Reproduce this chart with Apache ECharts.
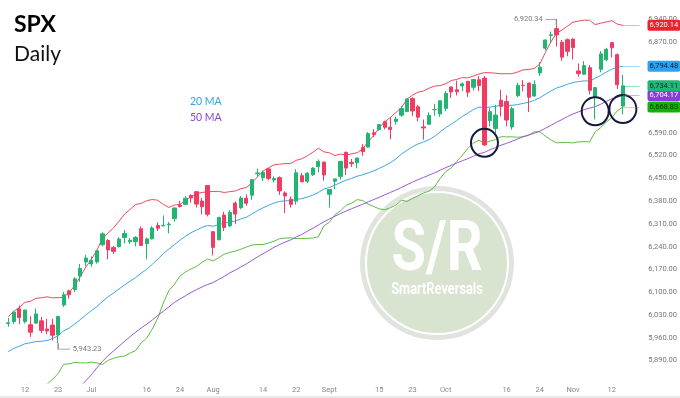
<!DOCTYPE html>
<html><head><meta charset="utf-8">
<script src="https://cdn.jsdelivr.net/npm/echarts@6/dist/echarts.min.js"></script>
<style>html,body{margin:0;padding:0;background:#fff}#c{width:680px;height:398px}</style>
</head><body><div id="c"></div>
<script>
const dates = ['2025-06-09','2025-06-10','2025-06-11','2025-06-12','2025-06-13','2025-06-16','2025-06-17','2025-06-18','2025-06-20','2025-06-23','2025-06-24','2025-06-25','2025-06-26','2025-06-27','2025-06-30',
'2025-07-01','2025-07-02','2025-07-03','2025-07-07','2025-07-08','2025-07-09','2025-07-10','2025-07-11','2025-07-14','2025-07-15','2025-07-16','2025-07-17','2025-07-18','2025-07-21','2025-07-22','2025-07-23','2025-07-24','2025-07-25','2025-07-28','2025-07-29','2025-07-30','2025-07-31',
'2025-08-01','2025-08-04','2025-08-05','2025-08-06','2025-08-07','2025-08-08','2025-08-11','2025-08-12','2025-08-13','2025-08-14','2025-08-15','2025-08-18','2025-08-19','2025-08-20','2025-08-21','2025-08-22','2025-08-25','2025-08-26','2025-08-27','2025-08-28','2025-08-29',
'2025-09-02','2025-09-03','2025-09-04','2025-09-05','2025-09-08','2025-09-09','2025-09-10','2025-09-11','2025-09-12','2025-09-15','2025-09-16','2025-09-17','2025-09-18','2025-09-19','2025-09-22','2025-09-23','2025-09-24','2025-09-25','2025-09-26','2025-09-29','2025-09-30',
'2025-10-01','2025-10-02','2025-10-03','2025-10-06','2025-10-07','2025-10-08','2025-10-09','2025-10-10','2025-10-13','2025-10-14','2025-10-15','2025-10-16','2025-10-17','2025-10-20','2025-10-21','2025-10-22','2025-10-23','2025-10-24','2025-10-27','2025-10-28','2025-10-29','2025-10-30','2025-10-31',
'2025-11-03','2025-11-04','2025-11-05','2025-11-06','2025-11-07','2025-11-10','2025-11-11','2025-11-12','2025-11-13','2025-11-14'];
const futureSlots = ['f1','f2','f3'];

const open = [6004,6010,6049,6010,6000,6005,6012,5987,5999,5969,
6061,6104,6108,6150,6193,6187,6193,6246,6259,6237,
6240,6268,6255,6255,6295,6249,6264,6305,6304,6307,
6326,6368,6370,6397,6409,6380,6428,6286,6261,6337,
6304,6374,6360,6389,6398,6464,6452,6479,6445,6452,
6405,6386,6380,6458,6441,6461,6486,6500,6401,6441,
6456,6530,6499,6498,6545,6546,6590,6600,6624,6607,
6625,6644,6655,6695,6670,6608,6616,6661,6648,6665,
6731,6722,6734,6748,6730,6753,6758,6627,6603,6690,
6686,6608,6704,6736,6743,6703,6774,6850,6889,6910,
6868,6876,6878,6780,6770,6790,6699,6785,6814,6867,
6830,6672];
const high = [6021,6043,6059,6045,6026,6050,6024,6018,6018,6028,
6101,6108,6146,6187,6215,6210,6227,6284,6263,6242,
6269,6291,6266,6272,6302,6268,6303,6315,6336,6316,
6360,6381,6395,6401,6409,6390,6428,6288,6330,6347,
6352,6379,6395,6401,6448,6480,6474,6481,6456,6456,
6410,6394,6478,6466,6468,6485,6508,6501,6416,6448,
6502,6532,6510,6513,6555,6592,6601,6616,6627,6638,
6640,6672,6696,6699,6676,6631,6653,6679,6689,6718,
6731,6750,6745,6749,6754,6764,6764,6666,6676,6722,
6705,6670,6744,6752,6743,6751,6807,6877,6901,6920.34,
6875,6880,6880,6803,6810,6798,6731,6841,6851,6869,
6834,6768];
const low = [5994,6003,6002,6004,5963,6004,5974,5971,5952,5943.23,
6055,6080,6100,6132,6180,6178,6188,6241,6201,6217,
6237,6250,6248,6241,6242,6201,6262,6288,6303,6281,
6317,6360,6368,6375,6360,6339,6333,6213,6260,6288,
6300,6310,6355,6366,6384,6455,6442,6444,6437,6399,
6343,6360,6369,6438,6435,6457,6468,6443,6360,6417,
6446,6460,6485,6481,6519,6545,6577,6596,6600,6570,
6615,6639,6654,6642,6625,6569,6615,6642,6639,6656,
6697,6705,6718,6700,6720,6718,6550,6610,6588,6640,
6610,6600,6700,6717,6654,6701,6765,6843,6865,6855,
6811,6825,6815,6762,6768,6708,6631,6776,6810,6821,
6724,6646];
const close = [6005.88,6038.81,6022.24,6045.26,5976.97,6033.11,5982.72,5980.87,5967.84,6025.17,
6092.18,6092.16,6141.02,6173.07,6204.95,6198.01,6227.42,6279.35,6229.98,6225.52,
6263.26,6280.46,6259.75,6268.56,6243.76,6263.70,6297.36,6296.79,6305.60,6309.62,
6358.91,6363.35,6388.64,6389.77,6370.86,6362.90,6339.39,6238.01,6329.94,6299.19,
6345.06,6340.00,6389.45,6373.45,6445.76,6466.58,6468.54,6449.80,6449.15,6411.37,
6395.78,6370.17,6466.91,6439.32,6465.94,6481.40,6501.86,6460.26,6415.54,6448.26,
6502.08,6481.50,6495.15,6512.61,6532.04,6587.47,6584.29,6615.28,6606.76,6600.35,
6631.96,6664.36,6693.75,6656.92,6637.97,6604.72,6643.70,6661.21,6688.46,6711.20,
6715.35,6715.79,6740.28,6714.59,6753.72,6735.11,6552.51,6654.72,6644.31,6671.06,
6629.07,6664.01,6735.13,6735.35,6699.40,6738.44,6791.69,6875.16,6890.89,6890.59,
6822.34,6840.20,6851.97,6771.55,6796.29,6720.32,6728.80,6832.43,6846.61,6850.92,
6737.49,6734.11];

const ma20 = [5917.5,5927.3,5934.0,5941.6,5944.6,5948.4,5949.3,5951.4,5957.5,
5966.7,5981.1,5989.6,6002.2,6015.3,6029.9,6043.0,6055.9,6071.3,6085.8,
6097.1,6110.0,6122.0,6133.9,6145.1,6158.5,6170.0,6185.7,6201.5,6218.4,
6232.7,6246.0,6259.6,6272.0,6282.8,6291.1,6299.4,6305.0,6302.9,6307.9,
6311.6,6315.7,6318.7,6325.1,6330.3,6340.4,6350.6,6359.2,6366.8,6374.0,
6379.0,6380.9,6381.2,6385.1,6387.6,6392.3,6398.2,6406.4,6417.5,6421.8,
6429.2,6437.1,6444.2,6449.5,6456.5,6460.8,6466.8,6472.5,6480.8,6488.7,
6498.1,6509.9,6524.6,6536.0,6546.9,6555.5,6561.7,6568.8,6578.8,6592.4,
6605.6,6616.2,6627.9,6640.2,6650.3,6661.4,6668.8,6667.2,6669.2,6671.1,
6674.6,6674.5,6674.5,6676.5,6680.4,6683.5,6690.1,6697.5,6708.2,6718.4,
6727.4,6732.7,6738.9,6744.5,6747.4,6749.5,6748.7,6757.5,6766.4,6776.5,
6785.5,6790.9,6794.48];
const upperBand = [6024.5,6041.1,6053.3,6068.6,6072.0,6081.4,6083.0,6085.7,6082.8,
6083.3,6083.8,6099.3,6120.3,6147.5,6177.2,6200.8,6228.9,6265.0,6281.2,
6297.5,6318.2,6340.0,6354.7,6369.5,6372.8,6380.9,6385.0,6382.7,6369.9,
6360.5,6367.9,6369.7,6381.8,6394.2,6402.8,6406.7,6408.2,6409.6,6409.8,
6406.5,6408.9,6411.0,6418.1,6421.8,6436.0,6454.4,6471.9,6482.4,6491.3,
6493.5,6495.3,6495.4,6505.3,6510.0,6519.1,6529.9,6542.5,6531.3,6528.3,
6520.0,6524.5,6521.4,6525.4,6528.6,6539.8,6563.1,6581.6,6605.6,6624.1,
6636.8,6652.0,6666.6,6693.2,6705.9,6714.7,6718.5,6727.0,6733.6,6734.9,
6740.7,6750.5,6753.9,6759.6,6758.7,6764.4,6770.6,6774.9,6774.4,6773.1,
6771.3,6771.5,6771.5,6776.7,6783.3,6784.8,6787.3,6801.8,6836.5,6868.9,
6895.6,6905.7,6917.8,6930.1,6932.9,6936.2,6935.7,6922.1,6926.9,6930.3,
6934.6,6923.9,6920.14];
const lowerBand = [5810.5,5813.5,5814.7,5814.6,5817.2,5815.4,5815.6,5817.1,5832.2,
5850.1,5878.4,5879.9,5884.1,5883.1,5882.6,5885.2,5882.9,5877.6,5890.4,
5896.7,5901.8,5904.0,5913.1,5920.7,5944.2,5959.1,5986.4,6020.3,6066.9,
6104.9,6124.1,6149.5,6162.2,6171.4,6179.4,6192.1,6201.8,6196.2,6206.0,
6216.7,6222.5,6226.4,6232.1,6238.8,6244.8,6246.8,6246.5,6251.2,6256.7,
6264.5,6266.5,6267.0,6264.9,6265.2,6265.5,6266.5,6270.3,6303.7,6315.3,
6338.4,6349.7,6367.0,6373.6,6384.4,6381.8,6370.5,6363.4,6356.0,6353.3,
6359.4,6367.8,6382.6,6378.8,6387.9,6396.3,6404.9,6410.6,6424.0,6449.9,
6470.5,6481.9,6501.9,6520.8,6541.9,6558.4,6567.0,6559.5,6564.0,6569.1,
6577.9,6577.5,6577.5,6576.3,6577.5,6582.2,6592.9,6593.2,6579.9,6567.9,
6559.2,6559.7,6560.0,6558.9,6561.9,6562.8,6561.7,6592.9,6605.9,6622.7,
6636.4,6657.9,6668.83];
const ma50 = [null,null,null,null,null,null,null,null,null,
null,null,null,null,5809.4,5828.0,5846.3,5867.7,5887.5,5904.6,
5919.4,5934.2,5949.2,5963.2,5977.2,5990.0,6001.6,6014.5,6028.3,6041.8,
6054.7,6068.7,6079.1,6089.1,6099.1,6108.1,6116.2,6123.7,6129.7,6139.4,
6148.5,6159.4,6167.7,6177.7,6187.0,6197.6,6208.3,6218.2,6227.8,6238.0,
6246.2,6254.0,6260.7,6269.6,6277.4,6287.2,6296.2,6306.6,6316.1,6325.1,
6333.6,6341.8,6349.6,6356.6,6363.4,6370.0,6377.8,6384.9,6391.6,6399.2,
6406.6,6414.0,6421.7,6430.4,6438.1,6446.0,6452.8,6459.8,6467.1,6474.7,
6482.7,6489.8,6496.9,6503.9,6510.4,6518.1,6525.5,6529.8,6538.1,6544.4,
6551.9,6557.5,6564.0,6570.9,6578.2,6583.2,6588.7,6595.1,6603.6,6612.5,
6622.1,6630.6,6640.0,6647.7,6654.3,6660.9,6665.7,6670.3,6677.7,6686.3,
6694.4,6699.1,6704.17];

const yTicks = [5890,5960,6030,6100,6170,6240,6310,6380,6450,6520,6590,6660,6730,6800,6870,6940];
const tickDates = ['2025-06-12','2025-06-23','2025-07-01','2025-07-16','2025-07-24','2025-08-01','2025-08-14','2025-08-22','2025-09-02','2025-09-15','2025-09-23','2025-10-01','2025-10-16','2025-10-24','2025-11-03','2025-11-12'];
const tickTexts = ['12','23','Jul','16','24','Aug','14','22','Sept','15','23','Oct','16','24','Nov','12'];
const circledDates = ['2025-10-10','2025-11-07','2025-11-14'];
const circledLevels = [6559, 6656, 6663];

function fmt(v){ const s = Number(v).toFixed(2); const p = s.split('.'); return p[0].replace(/\B(?=(\d{3})+(?!\d))/g, ',') + '.' + p[1]; }

const UP = '#22b473', DOWN = '#f23b63';
const cats = dates.concat(futureSlots);
const last = dates[dates.length - 1];
const endSlot = futureSlots[futureSlots.length - 1];
const candles = dates.map((d, i) => [open[i], close[i], low[i], high[i]]);
let hiIdx = 0, loIdx = 0;
high.forEach((v, i) => { if (v > high[hiIdx]) hiIdx = i; });
low.forEach((v, i) => { if (v < low[loIdx]) loIdx = i; });

function tag(value, bg, fg, lineColor){
  return {
    symbol: ['none','none'], silent: true, animation: false, z: 10,
    lineStyle: {color: lineColor, width: 1, type: 'solid'},
    label: {show: true, position: 'end', distance: 8, formatter: fmt(value), backgroundColor: bg, color: fg,
      padding: [2,2,1,2], borderRadius: 2, fontSize: 7.5, fontFamily: 'Roboto'},
    data: [[{coord: [last, value]}, {coord: [endSlot, value]}]]
  };
}

const chart = echarts.init(document.getElementById('c'), null, {renderer: 'canvas'});
chart.setOption({
  animation: false,
  backgroundColor: '#ffffff',
  textStyle: {fontFamily: 'Roboto'},
  title: {text: 'SPX', subtext: 'Daily', left: 14, top: 13, padding: 0, itemGap: 8,
    textStyle: {fontSize: 23, fontWeight: 'bold', color: '#000', fontFamily: 'Lato'},
    subtextStyle: {fontSize: 21, color: '#111', fontFamily: 'Lato'}},
  legend: {orient: 'vertical', left: 185, top: 96, icon: 'none', itemWidth: 0, itemHeight: 12, itemGap: 4.6,
    selectedMode: false, padding: 0,
    textStyle: {fontSize: 10.5, fontFamily: 'Lato'},
    data: [{name: '20 MA', textStyle: {color: '#2ea4e3'}}, {name: '50 MA', textStyle: {color: '#8b46c8'}}]},
  grid: {left: 5.5, right: 37.4, top: 0, bottom: 15, containLabel: false},
  xAxis: {type: 'category', data: cats, boundaryGap: true,
    axisLine: {show: false}, axisTick: {show: false}, splitLine: {show: false},
    axisLabel: {margin: 3, fontSize: 7.5, color: '#888',
      interval: (i, v) => tickDates.indexOf(v) >= 0,
      formatter: v => { const k = tickDates.indexOf(v); return k >= 0 ? tickTexts[k] : ''; }}},
  yAxis: {type: 'value', position: 'right', min: 5821, max: 6998, scale: true,
    axisLine: {show: false}, axisTick: {show: false}, splitLine: {show: false},
    axisLabel: {margin: 6, fontSize: 7.5, color: '#777', align: 'left', customValues: yTicks, formatter: v => fmt(v)}},
  graphic: [
    {type: 'circle', z: 0, silent: true, shape: {cx: 437, cy: 263, r: 77}, style: {fill: '#e1e3df'}},
    {type: 'circle', z: 0, silent: true, shape: {cx: 437, cy: 263, r: 71}, style: {fill: '#d9e4d0', stroke: '#ffffff', lineWidth: 2}},
    {type: 'text', z: 0, silent: true, x: 437, y: 252, scaleX: 0.8, style: {text: 'S/R', fill: '#ffffff', font: 'bold 70px Roboto', textAlign: 'center', verticalAlign: 'middle'}},
    {type: 'text', z: 0, silent: true, x: 437, y: 290, scaleX: 0.8, style: {text: 'SmartReversals', fill: '#ffffff', font: 'bold 16px Roboto', textAlign: 'center', verticalAlign: 'middle'}},
    {type: 'rect', z: 0, silent: true, shape: {x: 0, y: 396, width: 680, height: 2}, style: {fill: '#e9e9e9'}}
  ],
  series: [
    {type: 'line', name: 'upper', data: upperBand, showSymbol: false, symbol: 'none', z: 3,
      lineStyle: {color: '#ef4a5c', width: 1}, markLine: tag(upperBand[upperBand.length-1], '#f0212f', '#ffffff', 'rgba(239,74,92,0.45)')},
    {type: 'line', name: '20 MA', data: ma20, showSymbol: false, symbol: 'none', z: 3,
      lineStyle: {color: '#3aa8e6', width: 1}, markLine: tag(ma20[ma20.length-1], '#29a3f2', '#0b1b33', 'rgba(58,168,230,0.45)')},
    {type: 'line', name: 'lower', data: lowerBand, showSymbol: false, symbol: 'none', z: 3,
      lineStyle: {color: '#5fbb45', width: 1}, markLine: tag(lowerBand[lowerBand.length-1], '#12b300', '#0b2a0b', 'rgba(95,187,69,0.45)')},
    {type: 'line', name: '50 MA', data: ma50, showSymbol: false, symbol: 'none', z: 3,
      lineStyle: {color: '#9b58d6', width: 1}, markLine: tag(ma50[ma50.length-1], '#8a3be0', '#ffffff', 'rgba(155,88,214,0.45)')},
    {type: 'candlestick', name: 'SPX', data: candles, barWidth: '68%', z: 4,
      itemStyle: {color: UP, color0: DOWN, borderColor: UP, borderColor0: DOWN, borderWidth: 1},
      markLine: tag(close[close.length-1], '#1fb67a', '#0b2a1a', 'rgba(34,180,115,0.45)'),
      markPoint: {silent: true, animation: false, data: [
        {coord: [dates[hiIdx], high[hiIdx]], symbol: 'path://M0,0L11,0L11,6', symbolSize: [11, 6], symbolOffset: [-5.5, -3], symbolKeepAspect: false,
          itemStyle: {color: 'rgba(0,0,0,0)', borderColor: '#8c8c8c', borderWidth: 1},
          label: {show: true, position: 'left', distance: 2, offset: [0, -3], formatter: fmt(high[hiIdx]), color: '#7a7a7a', fontSize: 7.5}},
        {coord: [dates[loIdx], low[loIdx]], symbol: 'path://M0,0L0,6L12,6', symbolSize: [12, 6], symbolOffset: [6, 3], symbolKeepAspect: false,
          itemStyle: {color: 'rgba(0,0,0,0)', borderColor: '#8c8c8c', borderWidth: 1},
          label: {show: true, position: 'right', distance: 2, offset: [0, 3], formatter: fmt(low[loIdx]), color: '#7a7a7a', fontSize: 7.5}}
      ].concat(circledDates.map((d, k) => ({coord: [d, circledLevels[k]], symbol: 'circle', symbolSize: [27, 28],
          itemStyle: {color: 'rgba(0,0,0,0)', borderColor: '#151a3c', borderWidth: 2}, label: {show: false}})))}}
  ]
});
</script>
</body></html>
